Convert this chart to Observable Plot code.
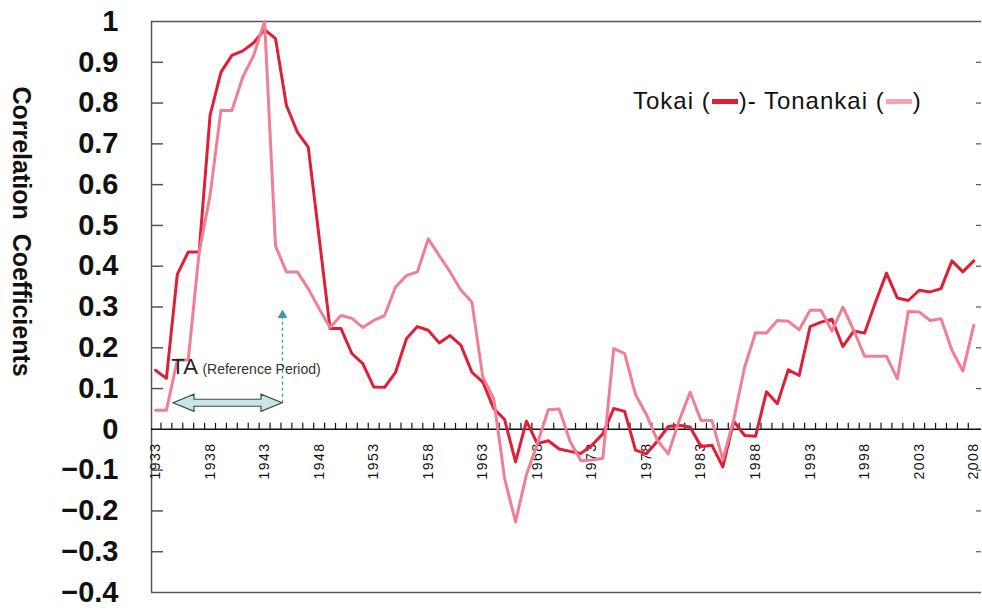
<!DOCTYPE html>
<html><head><meta charset="utf-8">
<script src="https://cdn.jsdelivr.net/npm/d3@7"></script>
<script src="https://cdn.jsdelivr.net/npm/@observablehq/plot@0.6"></script>
<style>
body{margin:0;background:#fff;}
#wrap{position:relative;width:982px;height:613px;font-family:"Liberation Sans",Arial,sans-serif;}
#legend{position:absolute;left:633px;top:87px;font-size:24px;letter-spacing:1px;color:#111;white-space:nowrap;font-family:"Liberation Sans",Arial,sans-serif;}
.sw{display:inline-block;width:26px;height:5px;vertical-align:middle;margin:0 1px;position:relative;top:-1px;}
</style></head><body><div id="wrap"></div>
<script>
const years = [1933,1934,1935,1936,1937,1938,1939,1940,1941,1942,1943,1944,1945,1946,1947,1948,1949,1950,
1951,1952,1953,1954,1955,1956,1957,1958,1959,1960,1961,1962,1963,1964,1965,1966,1967,1968,1969,1970,
1971,1972,1973,1974,1975,1976,1977,1978,1979,1980,1981,1982,1983,1984,1985,1986,1987,1988,1989,1990,
1991,1992,1993,1994,1995,1996,1997,1998,1999,2000,2001,2002,2003,2004,2005,2006,2007,2008];
const tokai = [0.145,0.125,0.38,0.435,0.435,0.77,0.876,0.917,0.928,0.948,0.98,0.958,0.794,0.729,0.692,0.47,0.247,0.247,
0.186,0.161,0.104,0.103,0.14,0.222,0.252,0.243,0.212,0.23,0.206,0.14,0.116,0.051,0.024,-0.08,0.02,-0.035,-0.028,-0.048,
-0.054,-0.059,-0.039,-0.011,0.051,0.044,-0.051,-0.06,-0.029,0.007,0.01,0.006,-0.042,-0.039,-0.092,0.02,-0.015,-0.017,0.092,0.063,
0.146,0.132,0.252,0.263,0.27,0.203,0.241,0.236,0.312,0.383,0.322,0.316,0.341,0.337,0.345,0.413,0.386,0.413];
const tonankai = [0.047,0.047,0.17,0.17,0.435,0.573,0.782,0.782,0.864,0.917,1.0,0.45,0.386,0.386,0.345,0.296,0.25,0.279,
0.272,0.25,0.267,0.279,0.349,0.377,0.386,0.467,0.426,0.386,0.341,0.312,0.128,0.075,-0.121,-0.227,-0.111,-0.035,0.048,0.05,
-0.03,-0.077,-0.075,-0.071,0.198,0.186,0.085,0.036,-0.027,-0.06,0.022,0.091,0.022,0.022,-0.074,0.024,0.153,0.237,0.236,0.267,
0.265,0.244,0.292,0.292,0.241,0.3,0.243,0.179,0.179,0.179,0.124,0.289,0.288,0.267,0.271,0.194,0.143,0.255];
const labelYears = [1933,1938,1943,1948,1953,1958,1963,1968,1973,1978,1983,1988,1993,1998,2003,2008];
const yTicks = [-0.4,-0.3,-0.2,-0.1,0,0.1,0.2,0.3,0.4,0.5,0.6,0.7,0.8,0.9,1];
const seriesNames = ["Tokai","Tonankai"];
const colors = {Tokai:"#e01e37", Tonankai:"#f07f95"};
const legendColors = {Tokai:"#e01e37", Tonankai:"#f2a7b2"};
// annotation: reference period
const refStart = 1934.65, refEnd = 1944.64, refLevel = 0.064, refArrowTip = 0.292;

const xDomain = [1932.633, 2008.71];
const pxPerYear = (981 - 151) / (xDomain[1] - xDomain[0]);
const pxPerUnit = (592 - 21) / 1.4;

const rows = years.map((yr, i) => ({year: yr, Tokai: tokai[i], Tonankai: tonankai[i]}));
const boundaries = years.slice(0, -1).map(y => y + 0.5);
const innerTicks = yTicks.filter(v => v !== 0 && v !== 1 && v !== -0.4);
const fmt = v => v === 0 ? "0" : v === 1 ? "1" : (v < 0 ? "\u2212" : "") + Math.abs(v).toFixed(1);

const font = "'Liberation Sans', Arial, sans-serif";

const plot = Plot.plot({
  width: 982, height: 613,
  marginLeft: 151, marginRight: 1, marginTop: 21, marginBottom: 21,
  style: {fontFamily: font, background: "#fff", color: "#111"},
  x: {domain: xDomain, axis: null},
  y: {domain: [-0.4, 1], axis: null},
  marks: [
    // frame
    Plot.ruleX([xDomain[0]], {stroke: "#555", strokeWidth: 1.5}),
    Plot.ruleY([1, -0.4], {stroke: "#555", strokeWidth: 1.5}),
    // inner y ticks
    Plot.ruleY(innerTicks, {y: d => d, x1: xDomain[0], x2: xDomain[0] + 12 / pxPerYear, stroke: "#555", strokeWidth: 1.5}),
    Plot.ruleY(innerTicks.concat([0]), {y: d => d, x1: xDomain[1] - 5 / pxPerYear, x2: xDomain[1], stroke: "#555", strokeWidth: 1.2}),
    // x axis at 0
    Plot.ruleY([0], {stroke: "#111", strokeWidth: 1.5}),
    Plot.ruleX(boundaries, {x: d => d, y1: 0, y2: 6 / pxPerUnit, stroke: "#111", strokeWidth: 1.2}),
    Plot.text(labelYears, {x: d => d, y: 0, text: d => String(d), rotate: -90, textAnchor: "end", dy: 13, fontSize: 14, fill: "#111"}),
    // y tick labels
    Plot.text(yTicks, {x: xDomain[0], y: d => d, text: fmt, textAnchor: "end", dx: -33, fontSize: 29, fontWeight: "bold", fill: "#111"}),
    // y title
    Plot.text(["Correlation\u00a0\u00a0Coefficients"], {x: xDomain[0], y: 0.485, dx: -131, rotate: 90, fontSize: 25, fontWeight: "bold", fill: "#111"}),
    // lines
    Plot.line(rows, {x: "year", y: "Tokai", stroke: colors.Tokai, strokeWidth: 3}),
    Plot.line(rows, {x: "year", y: "Tonankai", stroke: colors.Tonankai, strokeWidth: 3}),
    // annotation
    Plot.ruleX([refEnd], {x: d => d, y1: refLevel, y2: refArrowTip - 0.02, stroke: "#3a9e96", strokeWidth: 1.3, strokeDasharray: "3,3"}),
    Plot.dot([refEnd], {x: d => d, y: refArrowTip - 0.012, symbol: "triangle", r: 3.6, fill: "#3a9e96", stroke: "none"}),
    Plot.text(["TA"], {x: refStart - 0.2, y: 0.153, text: d => d, textAnchor: "start", fontSize: 22, fill: "#222"}),
    Plot.text(["(Reference Period)"], {x: 1937.3, y: 0.146, text: d => d, textAnchor: "start", fontSize: 14, fill: "#333"})
  ]
});

// block double arrow via the plot's scales
const sx = plot.scale("x"), sy = plot.scale("y");
const xa = sx.apply(refStart), xb = sx.apply(refEnd), ya = sy.apply(refLevel);
const h = 21, H = 8.5, s = 3.5;
const d = `M${xa},${ya}L${xa+h},${ya-H}L${xa+h},${ya-s}L${xb-h},${ya-s}L${xb-h},${ya-H}L${xb},${ya}L${xb-h},${ya+H}L${xb-h},${ya+s}L${xa+h},${ya+s}L${xa+h},${ya+H}Z`;
d3.select(plot).append("path").attr("d", d).attr("fill", "#c9e6e4").attr("stroke", "#2f4f4f").attr("stroke-width", 1.2);

// letter spacing on year labels
d3.select(plot).selectAll("text").filter(function(){ return /^\d{4}$/.test(this.textContent); }).attr("letter-spacing", "1.5px");

const wrap = document.getElementById("wrap");
wrap.appendChild(plot);
const lg = document.createElement("div");
lg.id = "legend";
lg.innerHTML = `${seriesNames[0]} (<span class="sw" style="background:${legendColors.Tokai}"></span>)- ${seriesNames[1]} (<span class="sw" style="background:${legendColors.Tonankai}"></span>)`;
wrap.appendChild(lg);
</script></body></html>
